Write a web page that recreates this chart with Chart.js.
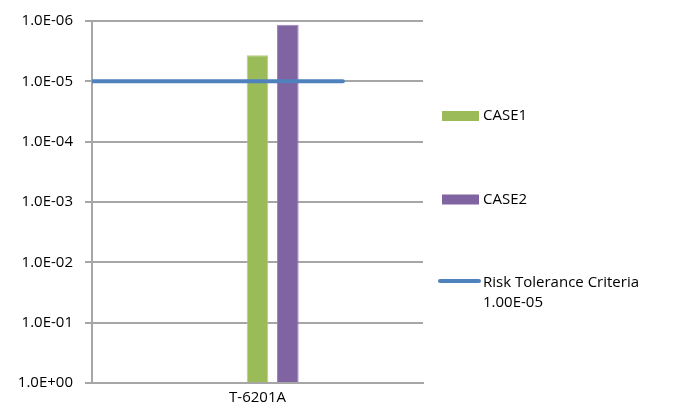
<!DOCTYPE html>
<html>
<head>
<meta charset="utf-8">
<script src="https://cdn.jsdelivr.net/npm/chart.js@4.4.1/dist/chart.umd.min.js"></script>
<style>
  html, body { margin: 0; padding: 0; background: #ffffff; }
  #wrap { width: 673px; height: 412px; }
</style>
</head>
<body>
<div id="wrap"><canvas id="c" width="673" height="412"></canvas></div>
<script>
// Categories and series
const categories = ['T-6201A'];
const case1Values = [3.7e-6];
const case2Values = [1.15e-6];
const riskCriteria = 1.0e-5;
const riskLabel = ['Risk Tolerance Criteria', '1.00E-05'];
// Horizontal extent of the criteria line, as fractions of the plot width
const riskSpan = [0, 0.758];

// Frequency axis ticks (one per decade)
const yTickValues = [1e0, 1e-1, 1e-2, 1e-3, 1e-4, 1e-5, 1e-6];
const yTickLabels = ['1.0E+00', '1.0E-01', '1.0E-02', '1.0E-03', '1.0E-04', '1.0E-05', '1.0E-06'];

const FONT = '"Open Sans", "Liberation Sans", sans-serif';
const GRID = '#a6a6a6';
const GREEN = '#9bbb59';
const PURPLE = '#8064a2';
const BLUE = '#4f81bd';

// Criteria line, placed on the value axis at riskCriteria
const riskLine = {
  id: 'riskLine',
  afterDatasetsDraw(chart) {
    const { ctx, chartArea: a, scales } = chart;
    const y = scales.y.getPixelForValue(riskCriteria);
    const x0 = a.left + riskSpan[0] * (a.right - a.left);
    const x1 = a.left + riskSpan[1] * (a.right - a.left);
    ctx.save();
    ctx.beginPath();
    ctx.rect(a.left, a.top - 5, a.right - a.left, a.bottom - a.top + 10);
    ctx.clip();
    ctx.strokeStyle = BLUE;
    ctx.lineWidth = 4;
    ctx.lineCap = 'round';
    ctx.beginPath();
    ctx.moveTo(x0, y);
    ctx.lineTo(x1, y);
    ctx.stroke();
    ctx.restore();
  }
};

// Legend drawn at the right
const sideLegend = {
  id: 'sideLegend',
  afterDraw(chart) {
    const ctx = chart.ctx;
    const rows = [116, 199.5, 283];
    const entries = chart.data.datasets
      .filter(ds => ds.label)
      .map(ds => ({ kind: 'box', color: ds.backgroundColor, text: [ds.label] }));
    entries.push({ kind: 'line', color: BLUE, text: riskLabel });
    ctx.save();
    ctx.font = '15px ' + FONT;
    ctx.textBaseline = 'middle';
    ctx.textAlign = 'left';
    entries.forEach((e, i) => {
      const y = rows[i];
      if (e.kind === 'line') {
        ctx.strokeStyle = e.color;
        ctx.lineWidth = 4;
        ctx.lineCap = 'round';
        ctx.beginPath();
        ctx.moveTo(440, y - 2);
        ctx.lineTo(479, y - 2);
        ctx.stroke();
      } else {
        ctx.fillStyle = e.color;
        ctx.fillRect(442, y - 5, 37, 10);
      }
      ctx.fillStyle = '#000000';
      e.text.forEach((t, k) => ctx.fillText(t, 483, y + k * 20));
    });
    ctx.restore();
  }
};

new Chart(document.getElementById('c'), {
  type: 'bar',
  data: {
    labels: categories,
    datasets: [
      { data: [null], backgroundColor: 'rgba(0,0,0,0)', base: 1 },
      { label: 'CASE1', data: case1Values, base: 1,
        backgroundColor: GREEN, borderColor: '#b5cd85', borderWidth: 1 },
      { label: 'CASE2', data: case2Values, base: 1,
        backgroundColor: PURPLE, borderColor: '#9a84b8', borderWidth: 1 }
    ]
  },
  options: {
    responsive: false,
    animation: false,
    events: [],
    layout: { padding: { left: 0, right: 250, top: 18, bottom: 0 } },
    categoryPercentage: 0.275,
    barPercentage: 0.713,
    plugins: { legend: { display: false }, tooltip: { enabled: false } },
    scales: {
      x: {
        type: 'category',
        offset: true,
        grid: { display: false, drawTicks: false },
        border: { display: true, color: GRID, width: 2 },
        ticks: { color: '#000', padding: 6, font: { family: FONT, size: 15 } },
        afterFit(s) { s.height = 29; }
      },
      y: {
        type: 'logarithmic',
        reverse: true,
        min: 1e-6,
        max: 1,
        afterBuildTicks(s) { s.ticks = yTickValues.map(v => ({ value: v, major: true })); },
        afterFit(s) { s.width = 92; },
        grid: { color: GRID, lineWidth: 2, tickLength: 7, drawTicks: true },
        border: { display: true, color: GRID, width: 2 },
        ticks: {
          color: '#000', padding: 12, autoSkip: false,
          font: { family: FONT, size: 15 },
          callback(v) {
            const i = yTickValues.findIndex(t => Math.abs(Math.log10(t) - Math.log10(v)) < 1e-6);
            return i >= 0 ? yTickLabels[i] : '';
          }
        }
      }
    }
  },
  plugins: [riskLine, sideLegend]
});
</script>
</body>
</html>
